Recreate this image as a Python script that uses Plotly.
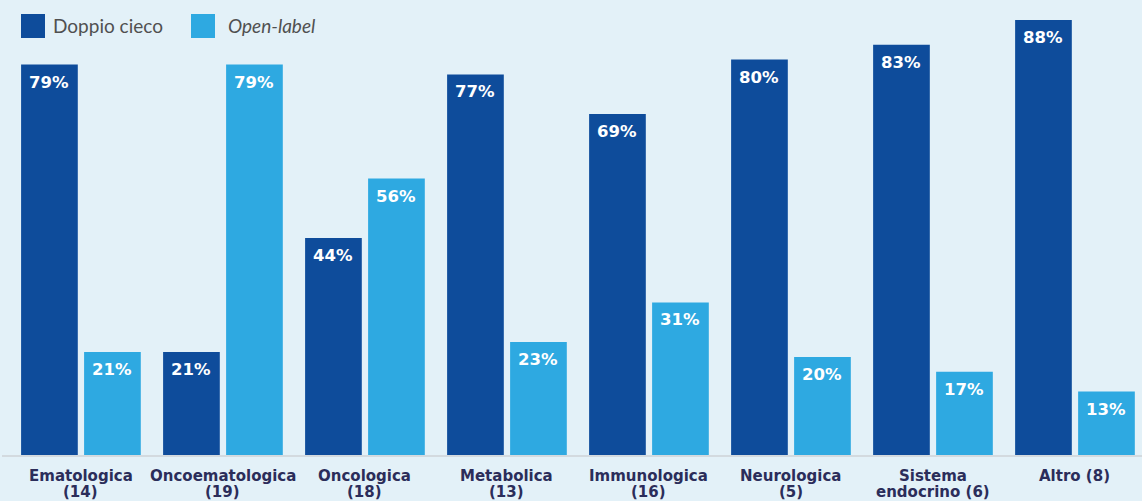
import plotly.graph_objects as go

# Clinical trial areas with number of studies
categories = ["Ematologica (14)", "Oncoematologica (19)", "Oncologica (18)", "Metabolica (13)",
              "Immunologica (16)", "Neurologica (5)", "Sistema endocrino (6)", "Altro (8)"]
label_line1 = ["Ematologica", "Oncoematologica", "Oncologica", "Metabolica",
               "Immunologica", "Neurologica", "Sistema", "Altro (8)"]
label_line2 = ["(14)", "(19)", "(18)", "(13)", "(16)", "(5)", "endocrino (6)", ""]
series_names = ["Doppio cieco", "Open-label"]
doppio_cieco = [79, 21, 44, 77, 69, 80, 83, 88]
open_label = [21, 79, 56, 23, 31, 20, 17, 13]

DARK = "#0E4C9B"
LIGHT = "#2EA9E1"
BG = "#E3F1F8"
NAVY = "#2B2D5A"

x_idx = list(range(len(categories)))

fig = go.Figure()
for name, vals, col in [(series_names[0], doppio_cieco, DARK), (series_names[1], open_label, LIGHT)]:
    fig.add_trace(go.Bar(x=x_idx, y=vals, name=name, marker=dict(color=col, line=dict(width=0)),
                         showlegend=False, hoverinfo="skip"))

fig.update_layout(
    width=1142, height=501,
    margin=dict(l=0, r=0, t=0, b=45),
    paper_bgcolor=BG, plot_bgcolor=BG,
    barmode="group", bargap=0.1127, bargroupgap=0.1,
    xaxis=dict(range=[-0.570, 7.472], showticklabels=False, showgrid=False, zeroline=False,
               showline=False, ticks="", automargin=False),
    yaxis=dict(range=[0, 92.03], visible=False, showgrid=False, zeroline=False, automargin=False),
)

PLOT_H = 456
def py(px):
    return 1 - px / PLOT_H

# baseline
fig.add_shape(type="line", xref="paper", yref="paper", x0=2 / 1142, x1=1, y0=0, y1=0,
              line=dict(color="#D3DADF", width=2))

# category labels, two tight lines under each group
cat_font = dict(family="DejaVu Sans", size=15, color=NAVY, weight="bold")
for i, (l1, l2) in enumerate(zip(label_line1, label_line2)):
    fig.add_annotation(x=i, xref="x", yref="paper", y=py(476), text=l1, showarrow=False,
                       yanchor="middle", font=cat_font)
    if l2:
        fig.add_annotation(x=i, xref="x", yref="paper", y=py(492), text=l2, showarrow=False,
                           yanchor="middle", font=cat_font)

# value labels at the top inside each bar
off = 0.2218
for vals, sign in [(doppio_cieco, -1), (open_label, 1)]:
    for i, v in enumerate(vals):
        fig.add_annotation(x=i + sign * off, y=v, xref="x", yref="y", text=f"{v}%",
                           showarrow=False, yanchor="top", yshift=-6,
                           font=dict(family="DejaVu Sans", size=16.5, color="white", weight="bold"))

# legend drawn as squares plus labels
for x0, col, name, tx, style in [(21, DARK, series_names[0], 51, "normal"),
                                 (191, LIGHT, series_names[1], 226, "italic")]:
    fig.add_shape(type="rect", xref="paper", yref="paper", x0=x0 / 1142, x1=(x0 + 24) / 1142,
                  y0=py(38), y1=py(14), fillcolor=col, line=dict(width=0), layer="above")
    fig.add_annotation(xref="paper", yref="paper", x=tx / 1142, y=py(26), text=name,
                       showarrow=False, xanchor="left", yanchor="middle",
                       font=dict(family="Lato", size=19, color="#505050", style=style))

fig.write_html("out.html")
